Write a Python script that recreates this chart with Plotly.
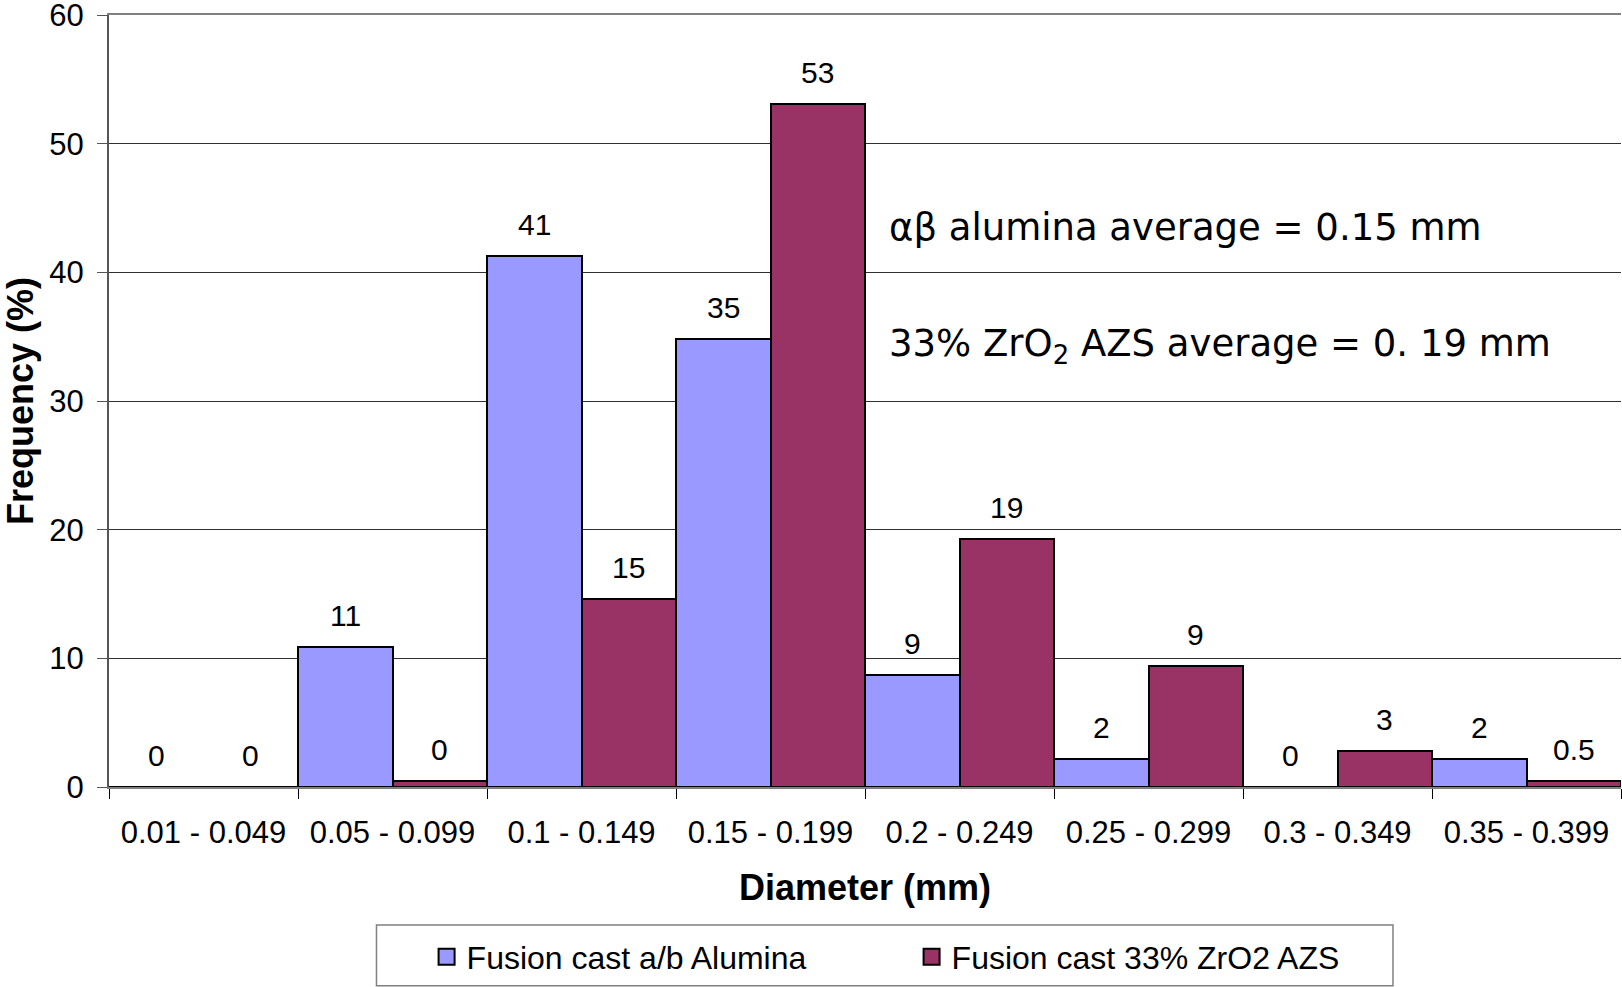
import plotly.graph_objects as go

categories = ["0.01 - 0.049", "0.05 - 0.099", "0.1 - 0.149", "0.15 - 0.199",
              "0.2 - 0.249", "0.25 - 0.299", "0.3 - 0.349", "0.35 - 0.399"]
alumina_values = [0, 10.9, 41.3, 34.8, 8.7, 2.2, 0, 2.2]
alumina_labels = ["0", "11", "41", "35", "9", "2", "0", "2"]
azs_values = [0, 0.45, 14.6, 53.1, 19.3, 9.4, 2.8, 0.5]
azs_labels = ["0", "0", "15", "53", "19", "9", "3", "0.5"]
series_names = ["Fusion cast a/b Alumina", "Fusion cast 33% ZrO2 AZS"]
series_colors = ["#9999FF", "#993366"]
y_ticks = [0, 10, 20, 30, 40, 50, 60]

LABEL_FONT = dict(family="Liberation Sans, Arial, sans-serif", size=30, color="black")

fig = go.Figure()
for name, vals, col in zip(series_names, [alumina_values, azs_values], series_colors):
    fig.add_trace(go.Bar(
        x=categories, y=vals, name=name, showlegend=False,
        marker=dict(color=col, line=dict(color="black", width=2)),
    ))
# legend entries (square swatches like the reference)
for name, col in zip(series_names, series_colors):
    fig.add_trace(go.Scatter(
        x=[None], y=[None], mode="markers", name=name,
        marker=dict(symbol="square", size=16, color=col, line=dict(color="black", width=2)),
    ))

annotations = []
for offset, labels, vals in [(-0.25, alumina_labels, alumina_values), (0.25, azs_labels, azs_values)]:
    for i, (lab, v) in enumerate(zip(labels, vals)):
        annotations.append(dict(
            x=i + offset, y=v, xref="x", yref="y", text=lab, showarrow=False,
            yanchor="bottom", xanchor="center", yshift=13, font=LABEL_FONT,
        ))

NOTE_FONT = dict(family="DejaVu Sans, Verdana, sans-serif", size=37, color="black")
annotations.append(dict(x=0.5146, y=43.5, xref="paper", yref="y", xanchor="left", yanchor="middle",
                        text="αβ alumina average = 0.15 mm", showarrow=False, font=NOTE_FONT))
annotations.append(dict(x=0.5146, y=34.25, xref="paper", yref="y", xanchor="left", yanchor="middle",
                        text="33% ZrO<sub>2</sub> AZS average = 0. 19 mm", showarrow=False, font=NOTE_FONT))

fig.update_layout(
    template="none",
    width=1622, height=987,
    margin=dict(l=109, r=1, t=15, b=200, pad=0, autoexpand=False),
    paper_bgcolor="white", plot_bgcolor="white",
    barmode="group", bargap=0, bargroupgap=0,
    font=dict(family="Liberation Sans, Arial, sans-serif", size=31, color="black"),
    annotations=annotations,
    showlegend=True,
    legend=dict(orientation="h", xref="container", yref="container",
                x=0.263, xanchor="left", y=0.0304, yanchor="middle",
                bgcolor="rgba(0,0,0,0)", borderwidth=0, itemsizing="trace",
                font=dict(family="Liberation Sans, Arial, sans-serif", size=32, color="black"),
                entrywidth=440, entrywidthmode="pixels", traceorder="normal"),
    shapes=[dict(type="rect", xref="paper", yref="paper", x0=0.1769, x1=0.8492, y0=-0.2576, y1=-0.1786,
                 line=dict(color="#808080", width=1.5), fillcolor="rgba(0,0,0,0)", layer="below")],
    xaxis=dict(
        type="category", tickson="boundaries", ticks="outside", ticklen=10, tickwidth=1, tickcolor="black",
        showline=True, linecolor="#808080", linewidth=2, mirror=True, showgrid=False, zeroline=False,
        automargin=False, ticklabelstandoff=17,
        title=dict(text="<b>Diameter (mm)</b>", font=dict(size=36), standoff=26),
        tickfont=dict(size=31),
    ),
    yaxis=dict(
        range=[0, 60], tickvals=y_ticks, ticks="outside", ticklen=10, tickwidth=1, tickcolor="#555555",
        showline=True, linecolor="#555555", linewidth=2, showgrid=True, gridcolor="#303030", gridwidth=1,
        zeroline=False, automargin=False, ticklabeloverflow="allow",
        title=dict(text="<b>Frequency (%)</b>", font=dict(size=36), standoff=20),
        tickfont=dict(size=31), ticklabelstandoff=7,
    ),
)

fig.write_html("out.html", config={"displayModeBar": False},
               post_script="document.body.style.margin='0px';")
